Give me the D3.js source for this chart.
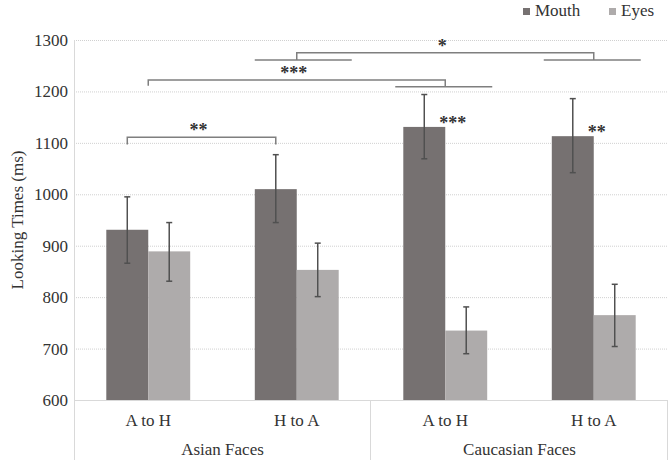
<!DOCTYPE html>
<html>
<head>
<meta charset="utf-8">
<script src="https://cdn.jsdelivr.net/npm/d3@7"></script>
<style>
  html, body { margin: 0; padding: 0; background: #fff; }
  svg { display: block; }
</style>
</head>
<body>
<svg id="chart" width="671" height="464"></svg>
<script>
// ---- data ----
const categories = ["A to H", "H to A", "A to H", "H to A"];
const groups = ["Asian Faces", "Caucasian Faces"];
const seriesNames = ["Mouth", "Eyes"];
const mouth = [931, 1010, 1131, 1113];
const eyes = [889, 853, 735, 765];
const mouthLow = [866, 945, 1069, 1042];
const mouthHigh = [995, 1077, 1194, 1186];
const eyesLow = [831, 801, 690, 704];
const eyesHigh = [945, 905, 781, 825];
const yTicks = [600, 700, 800, 900, 1000, 1100, 1200, 1300];
// significance brackets: from/to category index, anchor ("mouth" bar or "group"), bar level, drop levels, label
const brackets = [
  { from: 0, to: 1, anchor: "mouth", level: 1111, dropL: 1097, dropR: 1097, shortL: false, shortR: false, label: "**" },
  { from: 0, to: 2, anchor: "group", level: 1222, dropL: 1211, dropR: 1209, shortL: false, shortR: true, label: "***" },
  { from: 1, to: 3, anchor: "group", level: 1275, dropL: 1261, dropR: 1261, shortL: true, shortR: true, label: "*" }
];
const barStars = [ { cat: 2, label: "***", value: 1151 }, { cat: 3, label: "**", value: 1132 } ];

// ---- layout ----
const FONT = "Liberation Serif";
const svg = d3.select("#chart");
const mLeft = 74, mRight = 668, mTop = 40, mBottom = 400;
const colors = { Mouth: "#767171", Eyes: "#AEABAB" };
const textColor = "#333333";
const lineColor = "#D9D9D9";

const x = d3.scaleBand().domain(d3.range(categories.length)).range([mLeft, mRight]).padding(0);
const xs = d3.scaleBand().domain(seriesNames).range([0, x.bandwidth()]).paddingInner(0).paddingOuter(0.77);
const y = d3.scaleLinear().domain([600, 1300]).range([mBottom, mTop]);

// gridlines (dotted)
svg.append("g").selectAll("line").data(yTicks.filter(t => t > 600)).join("line")
  .attr("x1", mLeft).attr("x2", mRight)
  .attr("y1", d => y(d) + 0.5).attr("y2", d => y(d) + 0.5)
  .attr("stroke", "#D0D0D0").attr("stroke-width", 1).attr("stroke-dasharray", "1,1");

// y axis
const yAxis = svg.append("g").attr("transform", `translate(${mLeft},0)`)
  .call(d3.axisLeft(y).tickValues(yTicks).tickSize(0).tickPadding(6).tickFormat(d3.format("d")));
yAxis.select(".domain").remove();
yAxis.selectAll("text").style("font-family", FONT).style("font-size", "17px").attr("fill", textColor);
svg.append("line").attr("x1", mLeft + 0.5).attr("x2", mLeft + 0.5).attr("y1", mTop).attr("y2", 460)
  .attr("stroke", lineColor).attr("stroke-width", 1);

// y axis title
svg.append("text").attr("transform", `translate(17,${(mTop + mBottom) / 2}) rotate(-90)`)
  .attr("text-anchor", "middle").attr("dy", "0.35em").attr("fill", textColor)
  .style("font-family", FONT).style("font-size", "17px")
  .text("Looking Times (ms)");

// bars
const rows = categories.map((c, i) => ({ i, Mouth: mouth[i], Eyes: eyes[i],
  lo: { Mouth: mouthLow[i], Eyes: eyesLow[i] }, hi: { Mouth: mouthHigh[i], Eyes: eyesHigh[i] } }));
const gCat = svg.append("g").selectAll("g").data(rows).join("g")
  .attr("transform", d => `translate(${x(d.i)},0)`);
gCat.selectAll("rect").data(d => seriesNames.map(s => ({ s, v: d[s] }))).join("rect")
  .attr("x", d => xs(d.s)).attr("width", xs.bandwidth())
  .attr("y", d => y(d.v)).attr("height", d => y(600) - y(d.v))
  .attr("fill", d => colors[d.s]);

// error bars
const eb = gCat.selectAll("g.err").data(d => seriesNames.map(s => ({ s, lo: d.lo[s], hi: d.hi[s] }))).join("g")
  .attr("class", "err").attr("stroke", "#505050").attr("stroke-width", 1.5);
eb.append("line").attr("x1", d => xs(d.s) + xs.bandwidth() / 2).attr("x2", d => xs(d.s) + xs.bandwidth() / 2)
  .attr("y1", d => y(d.lo)).attr("y2", d => y(d.hi));
["lo", "hi"].forEach(k => {
  eb.append("line").attr("x1", d => xs(d.s) + xs.bandwidth() / 2 - 3).attr("x2", d => xs(d.s) + xs.bandwidth() / 2 + 3)
    .attr("y1", d => y(d[k])).attr("y2", d => y(d[k]));
});

// x axis baseline
svg.append("line").attr("x1", mLeft).attr("x2", mRight).attr("y1", mBottom + 0.5).attr("y2", mBottom + 0.5)
  .attr("stroke", lineColor).attr("stroke-width", 1);
// group separators
[2, 4].forEach(k => {
  const xx = k < categories.length ? x(k) : mRight;
  svg.append("line").attr("x1", xx - 0.5).attr("x2", xx - 0.5).attr("y1", mBottom).attr("y2", 460)
    .attr("stroke", lineColor).attr("stroke-width", 1);
});
// category labels
svg.append("g").selectAll("text").data(categories).join("text")
  .attr("x", (d, i) => x(i) + x.bandwidth() / 2).attr("y", 426)
  .attr("text-anchor", "middle").attr("fill", textColor)
  .style("font-family", FONT).style("font-size", "17px").text(d => d);
// group labels
svg.append("g").selectAll("text").data(groups).join("text")
  .attr("x", (d, i) => x(i * 2) + x.bandwidth())
  .attr("y", 455).attr("text-anchor", "middle").attr("fill", textColor)
  .style("font-family", FONT).style("font-size", "17px").text(d => d);

// brackets
function anchorX(cat, anchor) {
  return anchor === "mouth" ? x(cat) + xs("Mouth") + xs.bandwidth() / 2 : x(cat) + x.bandwidth() / 2;
}
const bg = svg.append("g").attr("fill", "none").attr("stroke", "#7F7F7F").attr("stroke-width", 1.5);
brackets.forEach(b => {
  const x1 = anchorX(b.from, b.anchor), x2 = anchorX(b.to, b.anchor);
  bg.append("path").attr("d", `M${x1},${y(b.dropL)}V${y(b.level)}H${x2}V${y(b.dropR)}`);
  if (b.shortL) bg.append("line").attr("x1", x1 - 42).attr("x2", x1 + 55).attr("y1", y(b.dropL)).attr("y2", y(b.dropL));
  if (b.shortR) bg.append("line").attr("x1", x2 - 50).attr("x2", x2 + 47).attr("y1", y(b.dropR)).attr("y2", y(b.dropR));
  svg.append("text").attr("x", (x1 + x2) / 2 - 3).attr("y", y(b.level) - 1)
    .attr("text-anchor", "middle").attr("fill", textColor)
    .style("font-family", FONT).style("font-size", "18px").style("font-weight", "bold").text(b.label);
});
barStars.forEach(s => {
  svg.append("text").attr("x", x(s.cat) + xs("Mouth") + xs.bandwidth() - 6).attr("y", y(s.value) + 12)
    .attr("text-anchor", "start").attr("fill", textColor)
    .style("font-family", FONT).style("font-size", "18px").style("font-weight", "bold").text(s.label);
});

// legend
const legendX = [523, 609];
const lg = svg.append("g").selectAll("g").data(seriesNames).join("g")
  .attr("transform", (d, i) => `translate(${legendX[i]},0)`);
lg.append("rect").attr("x", 0).attr("y", 8).attr("width", 7).attr("height", 7).attr("fill", d => colors[d]);
lg.append("text").attr("x", 12).attr("y", 16).attr("fill", textColor)
  .style("font-family", FONT).style("font-size", "17px").text(d => d);
</script>
</body>
</html>
